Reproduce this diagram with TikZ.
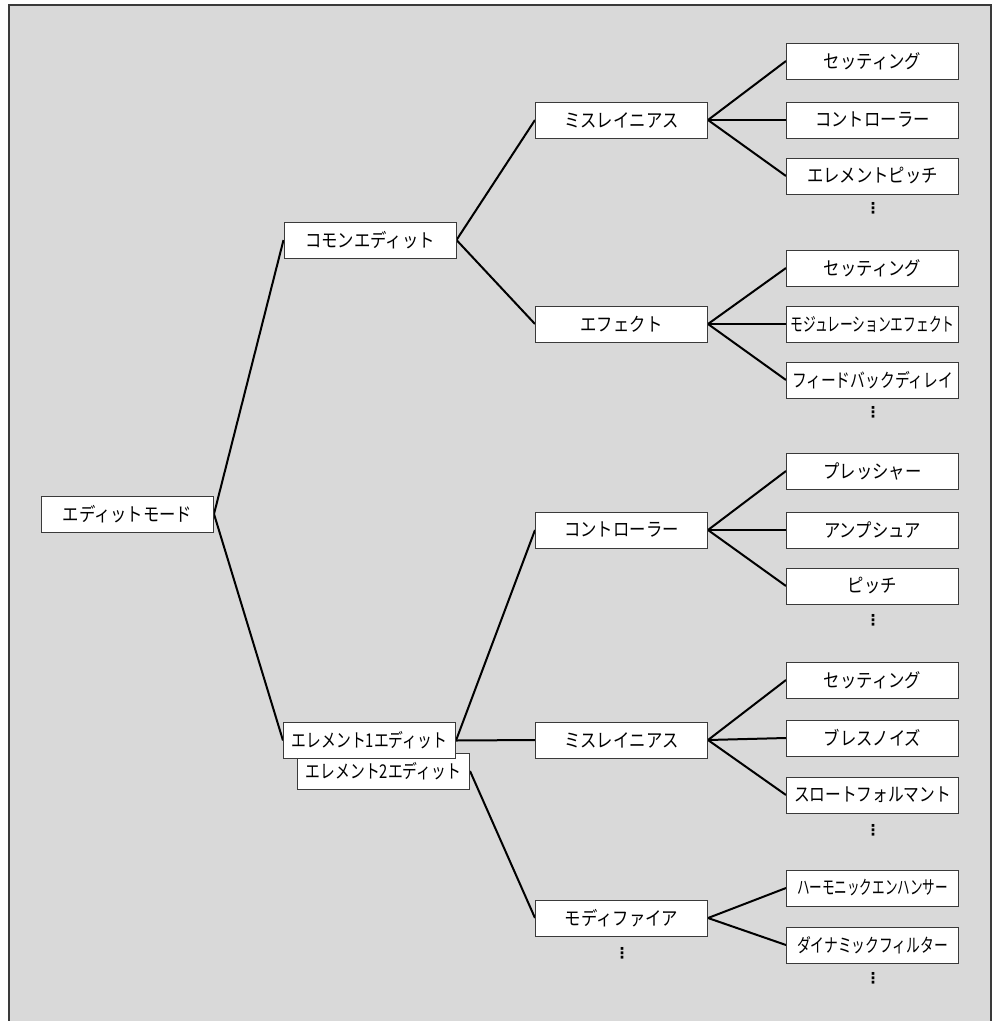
\documentclass[tikz,border=0pt]{standalone}
\usepackage{fontspec}
\usepackage{graphicx}
\setmainfont[FakeStretch=0.86]{Noto Sans CJK JP}
\newfontfamily\dejavu{DejaVu Sans}
\newcommand\cw[2]{\resizebox{#1}{\height}{#2}}
\definecolor{bggray}{HTML}{D9D9D9}
\definecolor{framegray}{HTML}{3A3A3A}
\pgfdeclarelayer{paper}
\pgfdeclarelayer{lines}
\pgfsetlayers{paper,lines,main}
\begin{document}
\begin{tikzpicture}[x=1pt,y=-1pt,
  box/.style={draw=framegray,line width=1pt,fill=white,minimum width=172pt,minimum height=36pt,inner sep=0pt,font=\fontsize{19}{20}\selectfont},
  conn/.style={line width=2pt,black},
  vdots/.style={inner sep=0pt,font=\dejavu\bfseries\fontsize{15}{15}\selectfont}]
\useasboundingbox (0,0) rectangle (993,1021);
\begin{pgfonlayer}{paper}
\fill[bggray] (9,5) rectangle (991,1021);
\draw[framegray,line width=2pt] (9,1021) -- (9,5) -- (991,5) -- (991,1021);
\end{pgfonlayer}
% level 0
\node[box] (emode) at (127.5,514) {エディットモード};
% level 1
\node[box] (common) at (370,240) {コモンエディット};
\node[box] (el2) at (383.5,771) {\cw{155pt}{エレメント2エディット}};
\node[box] (el1) at (369.5,740.5) {\cw{155pt}{エレメント1エディット}};
% level 2
\node[box] (misc1) at (621.5,120) {ミスレイニアス};
\node[box] (effect) at (621.5,324) {エフェクト};
\node[box] (ctrl) at (621.5,530) {コントローラー};
\node[box] (misc2) at (621.5,740) {ミスレイニアス};
\node[box] (modif) at (621.5,918) {モディファイア};
\node[vdots] (modifdots) at (622,953) {⋮};
% leaves
\node[box] (s1) at (872.5,61) {セッティング};
\node[box] (c1) at (872.5,120) {コントローラー};
\node[box] (ep) at (872.5,176) {エレメントピッチ};
\node[vdots] (d1) at (873,208) {⋮};
\node[box] (s2) at (872.5,268) {セッティング};
\node[box] (mod) at (872.5,324) {\cw{164pt}{モジュレーションエフェクト}};
\node[box] (fb) at (872.5,380) {\cw{161pt}{フィードバックディレイ}};
\node[vdots] (d2) at (873,412) {⋮};
\node[box] (pr) at (872.5,471) {プレッシャー};
\node[box] (an) at (872.5,530) {アンプシュア};
\node[box] (pi) at (872.5,586) {ピッチ};
\node[vdots] (d3) at (873,620) {⋮};
\node[box] (s3) at (872.5,680) {セッティング};
\node[box] (br) at (872.5,738) {ブレスノイズ};
\node[box] (th) at (872.5,795) {\cw{157pt}{スロートフォルマント}};
\node[vdots] (d4) at (873,830) {⋮};
\node[box] (hm) at (872.5,888) {\cw{151pt}{ハーモニックエンハンサー}};
\node[box] (dy) at (872.5,945) {\cw{151pt}{ダイナミックフィルター}};
\node[vdots] (d5) at (873,978) {⋮};
% connectors
\begin{pgfonlayer}{lines}
\draw[conn] (emode.east) -- (common.west);
\draw[conn] (emode.east) -- (el1.west);
\draw[conn] (common.east) -- (misc1.west);
\draw[conn] (common.east) -- (effect.west);
\draw[conn] (el1.east) -- (ctrl.west);
\draw[conn] (el1.east) -- (misc2.west);
\draw[conn] (el2.east) -- (modif.west);
\foreach \p/\c in {misc1/s1,misc1/c1,misc1/ep,effect/s2,effect/mod,effect/fb,ctrl/pr,ctrl/an,ctrl/pi,misc2/s3,misc2/br,misc2/th,modif/hm,modif/dy}
  \draw[conn] (\p.east) -- (\c.west);
\end{pgfonlayer}
\end{tikzpicture}
\end{document}
